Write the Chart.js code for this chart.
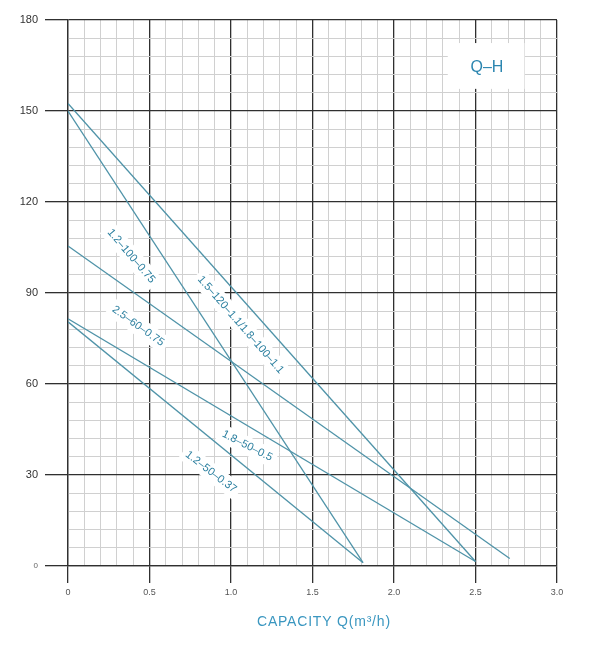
<!DOCTYPE html>
<html>
<head>
<meta charset="utf-8">
<title>Q-H</title>
<script src="https://cdn.jsdelivr.net/npm/chart.js@4.4.1/dist/chart.umd.min.js"></script>
<style>
  html, body { margin: 0; padding: 0; background: #fff; }
  #chart { display: block; }
</style>
</head>
<body>
<canvas id="chart" width="589" height="650"></canvas>
<script>
// Q-H curves: capacity (m3/h) -> head (m)
const curveQ = [
  [0, 2.5],
  [0, 1.81],
  [0, 2.71],
  [0, 2.5],
  [0, 1.81]
];
const curveH = [
  [152.5, 1.5],
  [150, 1.1],
  [105.5, 2.5],
  [81.5, 1.5],
  [80.5, 1.1]
];
const qTickLabels = ['0', '0.5', '1.0', '1.5', '2.0', '2.5', '3.0'];
const hTickLabels = ['0', '30', '60', '90', '120', '150', '180'];
const modelNames = ['1.2–100–0.75', '1.5–120–1.1/1.8–100–1.1', '2.5–60–0.75', '1.8–50–0.5', '1.2–50–0.37'];

// where the model names sit (data coords + text angle)
const labelSpots = [
  { q: 0.387, h: 102.2, deg: 49.5 },
  { q: 1.06, h: 79.5, deg: 49 },
  { q: 0.43, h: 79.1, deg: 35.6 },
  { q: 1.10, h: 39.6, deg: 27 },
  { q: 0.877, h: 31, deg: 37.6 }
];

const LINE_COLOR = '#4f93a8';
const TEXT_COLOR = '#2b7f9f';
const MAJOR = '#303030';
const MINOR = '#d0d0d0';

const tickVal = c => (c && c.tick) ? c.tick.value : 0;
const isMajorQ = c => { const v = tickVal(c); return Math.abs(v / 0.5 - Math.round(v / 0.5)) < 1e-6; };
const isMajorH = c => { const v = tickVal(c); return Math.abs(v / 30 - Math.round(v / 30)) < 1e-6; };

const datasets = curveQ.map((qs, i) => ({
  data: qs.map((q, j) => ({ x: q, y: curveH[i][j] })),
  borderColor: LINE_COLOR,
  borderWidth: 1.3,
  pointRadius: 0,
  fill: false,
  tension: 0
}));

// white boxed labels + the Q-H tag, drawn over the grid but under the curves
const curveLabels = {
  id: 'curveLabels',
  beforeDatasetsDraw(chart) {
    const { ctx, scales: { x, y } } = chart;
    ctx.save();

    // Q-H tag
    const bx1 = x.getPixelForValue(2.33), bx2 = x.getPixelForValue(2.80);
    const by1 = y.getPixelForValue(172.4), by2 = y.getPixelForValue(157.3);
    ctx.fillStyle = '#fff';
    ctx.fillRect(bx1, by1, bx2 - bx1, by2 - by1);
    ctx.fillStyle = '#2c86b0';
    ctx.font = '16px "Liberation Sans", Arial, sans-serif';
    ctx.textAlign = 'center';
    ctx.textBaseline = 'middle';
    ctx.fillText('Q–H', x.getPixelForValue(2.57), y.getPixelForValue(164.2));

    ctx.font = '11px "Liberation Sans", Arial, sans-serif';
    labelSpots.forEach((s, i) => {
      const w = ctx.measureText(modelNames[i]).width;
      ctx.save();
      ctx.translate(x.getPixelForValue(s.q), y.getPixelForValue(s.h));
      ctx.rotate(s.deg * Math.PI / 180);
      ctx.fillStyle = '#fff';
      ctx.fillRect(-w / 2 - 4, -9, w + 8, 18);
      ctx.fillStyle = TEXT_COLOR;
      ctx.fillText(modelNames[i], 0, 0);
      ctx.restore();
    });
    ctx.restore();
  },
  afterDraw(chart) {
    const { ctx, chartArea, scales: { x } } = chart;
    ctx.save();
    ctx.fillStyle = '#3b97c0';
    ctx.font = '14px "Liberation Sans", Arial, sans-serif';
    ctx.letterSpacing = '0.8px';
    ctx.textAlign = 'center';
    ctx.textBaseline = 'middle';
    ctx.fillText('CAPACITY Q(m³/h)', x.getPixelForValue(1.57), chartArea.bottom + 56);
    ctx.restore();
  }
};

new Chart(document.getElementById('chart'), {
  type: 'line',
  data: { datasets },
  options: {
    responsive: false,
    animation: false,
    events: [],
    layout: { padding: { top: 20, right: 32, left: 0, bottom: 0 } },
    plugins: {
      legend: { display: false },
      tooltip: { enabled: false }
    },
    scales: {
      x: {
        type: 'linear',
        min: 0,
        max: 3,
        afterFit: s => { s.height = 84; },
        border: { color: MAJOR, width: 1.3 },
        grid: {
          color: c => isMajorQ(c) ? MAJOR : MINOR,
          lineWidth: c => isMajorQ(c) ? 1.3 : 1,
          tickColor: c => isMajorQ(c) ? MAJOR : 'transparent',
          tickLength: 17
        },
        ticks: {
          stepSize: 0.1,
          autoSkip: false,
          maxRotation: 0,
          padding: 4,
          color: '#555',
          font: { size: 9, family: '"Liberation Sans", Arial, sans-serif' },
          callback: v => isMajorQ({ tick: { value: v } }) ? qTickLabels[Math.round(v / 0.5)] : ''
        }
      },
      y: {
        min: 0,
        max: 180,
        afterFit: s => { s.width = 68; },
        border: { color: MAJOR, width: 1.3 },
        grid: {
          color: c => isMajorH(c) ? MAJOR : MINOR,
          lineWidth: c => isMajorH(c) ? 1.3 : 1,
          tickColor: c => isMajorH(c) ? MAJOR : 'transparent',
          tickLength: 23
        },
        ticks: {
          stepSize: 6,
          autoSkip: false,
          padding: 7,
          color: c => tickVal(c) === 0 ? '#666' : '#333',
          font: c => ({
            size: tickVal(c) === 0 ? 8 : 11,
            family: '"Liberation Sans", Arial, sans-serif'
          }),
          callback: v => isMajorH({ tick: { value: v } }) ? hTickLabels[Math.round(v / 30)] : ''
        }
      }
    }
  },
  plugins: [curveLabels]
});
</script>
</body>
</html>
